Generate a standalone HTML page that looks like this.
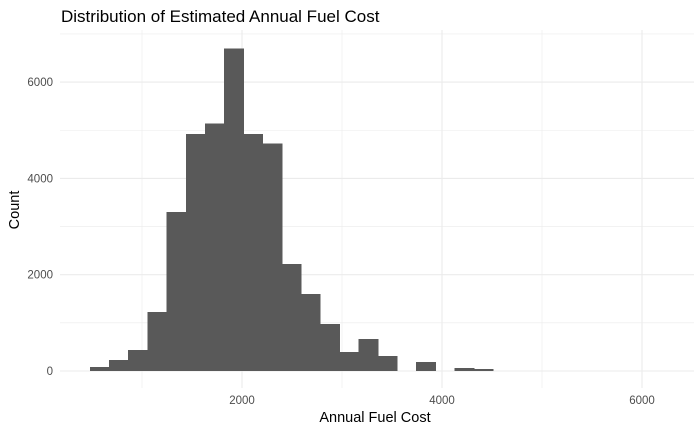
<!DOCTYPE html>
<html><head><meta charset="utf-8"><style>
body{margin:0;background:#fff;}
svg{display:block;font-family:"Liberation Sans",Arial,sans-serif;}
</style></head><body>
<svg id="chart" width="700" height="432">
<text x="61" y="22" font-size="17" fill="#000">Distribution of Estimated Annual Fuel Cost</text>
<g id="grid"></g><g id="bars" shape-rendering="crispEdges"></g><g id="ticks"></g>
<text x="375" y="422" font-size="14.5" text-anchor="middle" fill="#000">Annual Fuel Cost</text>
<text transform="translate(19,210) rotate(-90)" font-size="14.5" text-anchor="middle" fill="#000">Count</text>
</svg>
<script>
const binStart = 478;
const binWidth = 192;
const counts = [83,230,435,1225,3300,4920,5145,6700,4920,4730,2220,1600,980,395,665,310,0,185,0,60,40,0,0,0,0,0,0,0,0,0];
const xTicks = [2000,4000,6000];
const yTicks = [0,2000,4000,6000];
const xMinor = [1000,3000,5000];
const yMinor = [1000,3000,5000,7000];
const NS="http://www.w3.org/2000/svg";
const L=60,R=694,T=30,B=388;
const xs=v=>242+(v-2000)*0.1;
const ys=v=>371-v*0.04815;
const grid=document.getElementById('grid'),bars=document.getElementById('bars'),ticks=document.getElementById('ticks');
function line(p,x1,y1,x2,y2,w,name){const l=document.createElementNS(NS,'line');l.setAttribute('x1',x1);l.setAttribute('y1',y1);l.setAttribute('x2',x2);l.setAttribute('y2',y2);l.setAttribute('stroke','#ebebeb');l.setAttribute('stroke-width',w);


p.appendChild(l);}
xMinor.forEach(v=>line(grid,xs(v),T,xs(v),B,0.6,'x-minor-gridline'));
yMinor.forEach(v=>line(grid,L,ys(v),R,ys(v),0.6,'y-minor-gridline'));
xTicks.forEach(v=>line(grid,xs(v),T,xs(v),B,1.1,'x-major-gridline'));
yTicks.forEach(v=>line(grid,L,ys(v),R,ys(v),1.1,'y-major-gridline'));
counts.forEach((c,i)=>{if(c<=0)return;const x0=xs(binStart+i*binWidth),x1=xs(binStart+(i+1)*binWidth);
const r=document.createElementNS(NS,'rect');r.setAttribute('x',x0);r.setAttribute('width',x1-x0+0.5);r.setAttribute('y',ys(c));r.setAttribute('height',ys(0)-ys(c));r.setAttribute('fill','#595959');


bars.appendChild(r);});
xTicks.forEach(v=>{const t=document.createElementNS(NS,'text');t.setAttribute('x',xs(v));t.setAttribute('y',404);t.setAttribute('text-anchor','middle');t.setAttribute('font-size','11.5');t.setAttribute('fill','#4d4d4d');t.textContent=v;


ticks.appendChild(t);});
yTicks.forEach(v=>{const t=document.createElementNS(NS,'text');t.setAttribute('x',53);t.setAttribute('y',ys(v)+4);t.setAttribute('text-anchor','end');t.setAttribute('font-size','11.5');t.setAttribute('fill','#4d4d4d');t.textContent=v;


ticks.appendChild(t);});
</script>
</body></html>
